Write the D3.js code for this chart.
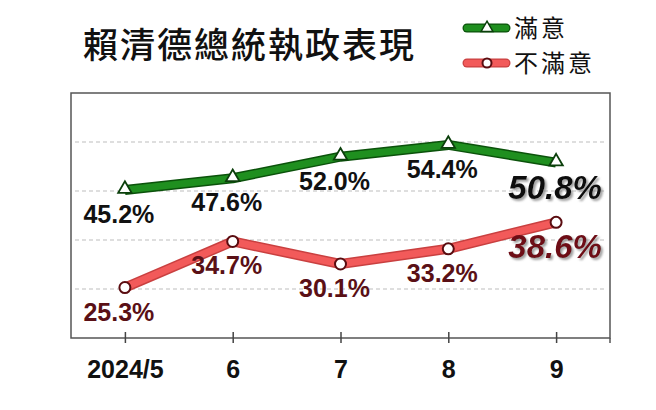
<!DOCTYPE html>
<html>
<head>
<meta charset="utf-8">
<script src="https://cdn.jsdelivr.net/npm/d3@7"></script>
<style>
  body { margin: 0; background: #fff; }
  svg { display: block; }
</style>
</head>
<body>
<svg class="container"></svg>
<script>
const months = ["2024/5", "6", "7", "8", "9"];
const satisfied = [45.2, 47.6, 52.0, 54.4, 50.8];
const dissatisfied = [25.3, 34.7, 30.1, 33.2, 38.6];
const gridValues = [25, 35, 45, 55];
const title = "賴清德總統執政表現";
const seriesNames = ["滿意", "不滿意"];

const width = 656;
const height = 410;
const box = { left: 71, right: 610, top: 93, bottom: 338 };

const svg = d3.select(".container").attr("width", width).attr("height", height);

// shadow for the latest values
const defs = svg.append("defs");
defs.append("filter")
  .attr("id", "shadow")
  .attr("x", "-10%").attr("y", "-20%").attr("width", "130%").attr("height", "150%")
  .append("feDropShadow")
  .attr("dx", 2).attr("dy", 2).attr("stdDeviation", 1)
  .attr("flood-color", "#888").attr("flood-opacity", 0.8);

const xScale = d3.scalePoint()
  .domain(months)
  .range([box.left, box.right])
  .padding(0.5);

const yScale = d3.scaleLinear()
  .domain([15, 65])
  .range([box.bottom, box.top]);

// title
svg.append("text")
  .attr("x", 83)
  .attr("y", 58)
  .attr("font-family", "'Noto Sans CJK TC', 'Noto Sans CJK SC', sans-serif")
  .attr("font-size", 35)
  .attr("font-weight", 500)
  .attr("letter-spacing", 2)
  .attr("fill", "#111")
  .text(title);

// gridlines
svg.selectAll(".grid")
  .data(gridValues)
  .enter()
  .append("line")
  .attr("x1", box.left + 4)
  .attr("x2", box.right - 4)
  .attr("y1", (d) => yScale(d))
  .attr("y2", (d) => yScale(d))
  .attr("stroke", "#bdbdbd")
  .attr("stroke-width", 1.2)
  .attr("stroke-dasharray", "4,3");

// frame
svg.append("rect")
  .attr("x", box.left)
  .attr("y", box.top)
  .attr("width", box.right - box.left)
  .attr("height", box.bottom - box.top)
  .attr("fill", "none")
  .attr("stroke", "#555")
  .attr("stroke-width", 1.5);

// x axis
const xAxis = svg.append("g")
  .attr("transform", `translate(0,${box.bottom})`)
  .call(d3.axisBottom(xScale).tickSizeOuter(0).tickSize(5));
xAxis.select(".domain").remove();
xAxis.selectAll(".tick line")
  .attr("y1", -6).attr("y2", 5)
  .attr("stroke", "#444").attr("stroke-width", 1.5);
xAxis.selectAll(".tick text")
  .attr("y", 40).attr("dy", 0)
  .attr("font-family", "'Liberation Sans', Arial, sans-serif")
  .attr("font-size", 25)
  .attr("font-weight", "bold")
  .attr("fill", "#111");
svg.append("line")
  .attr("x1", box.right).attr("x2", box.right)
  .attr("y1", box.bottom).attr("y2", box.bottom + 5)
  .attr("stroke", "#555").attr("stroke-width", 1.5);

const series = [
  { name: seriesNames[0], values: satisfied, outer: "#0b520b", inner: "#1f8f1f",
    marker: "triangle", markStroke: "#0b3f0b", label: "#111", last: "#0a0a0a" },
  { name: seriesNames[1], values: dissatisfied, outer: "#c94040", inner: "#f25a5a",
    marker: "circle", markStroke: "#5a0c10", label: "#5a1016", last: "#6e0f18" }
];

const line = d3.line()
  .x((d, i) => xScale(months[i]))
  .y((d) => yScale(d));

const triangle = d3.symbol().type(d3.symbolTriangle).size(78);

series.forEach((s) => {
  svg.append("path")
    .attr("d", line(s.values))
    .attr("fill", "none")
    .attr("stroke", s.outer)
    .attr("stroke-width", 10)
    .attr("stroke-linejoin", "round");
  svg.append("path")
    .attr("d", line(s.values))
    .attr("fill", "none")
    .attr("stroke", s.inner)
    .attr("stroke-width", 7)
    .attr("stroke-linejoin", "round");

  const marks = svg.selectAll(null)
    .data(s.values)
    .enter();
  if (s.marker === "triangle") {
    marks.append("path")
      .attr("d", triangle)
      .attr("transform", (d, i) => `translate(${xScale(months[i])},${yScale(d) - 1})`)
      .attr("fill", "#fff")
      .attr("stroke", s.markStroke)
      .attr("stroke-width", 1.8);
  } else {
    marks.append("circle")
      .attr("cx", (d, i) => xScale(months[i]))
      .attr("cy", (d) => yScale(d))
      .attr("r", 5.5)
      .attr("fill", "#fff")
      .attr("stroke", s.markStroke)
      .attr("stroke-width", 2);
  }

  svg.selectAll(null)
    .data(s.values)
    .enter()
    .append("text")
    .attr("x", (d, i) => xScale(months[i]) + (i === s.values.length - 1 ? -1 : -6))
    .attr("y", (d, i) => yScale(d) + (i === s.values.length - 1 ? 36 : 33))
    .attr("text-anchor", "middle")
    .attr("font-family", "'Liberation Sans', Arial, sans-serif")
    .attr("font-weight", "bold")
    .attr("font-style", (d, i) => (i === s.values.length - 1 ? "italic" : "normal"))
    .attr("font-size", (d, i) => (i === s.values.length - 1 ? 33 : 25))
    .attr("fill", (d, i) => (i === s.values.length - 1 ? s.last : s.label))
    .attr("filter", (d, i) => (i === s.values.length - 1 ? "url(#shadow)" : null))
    .text((d) => d.toFixed(1) + "%");
});

// legend
const legend = svg.append("g");
series.forEach((s, k) => {
  const ly = 28 + k * 35;
  legend.append("line")
    .attr("x1", 467).attr("x2", 506).attr("y1", ly).attr("y2", ly)
    .attr("stroke", s.outer).attr("stroke-width", 9).attr("stroke-linecap", "round");
  legend.append("line")
    .attr("x1", 467).attr("x2", 506).attr("y1", ly).attr("y2", ly)
    .attr("stroke", s.inner).attr("stroke-width", 6.5).attr("stroke-linecap", "round");
  if (s.marker === "triangle") {
    legend.append("path")
      .attr("d", d3.symbol().type(d3.symbolTriangle).size(60))
      .attr("transform", `translate(487,${ly})`)
      .attr("fill", "#fff").attr("stroke", s.markStroke).attr("stroke-width", 1.5);
  } else {
    legend.append("circle")
      .attr("cx", 487).attr("cy", ly).attr("r", 4.5)
      .attr("fill", "#fff").attr("stroke", s.markStroke).attr("stroke-width", 2);
  }
  legend.append("text")
    .attr("x", 514)
    .attr("y", ly + 9)
    .attr("font-family", "'Noto Sans CJK TC', 'Noto Sans CJK SC', sans-serif")
    .attr("font-size", 24)
    .attr("letter-spacing", 3)
    .attr("fill", "#111")
    .text(s.name);
});
</script>
</body>
</html>
